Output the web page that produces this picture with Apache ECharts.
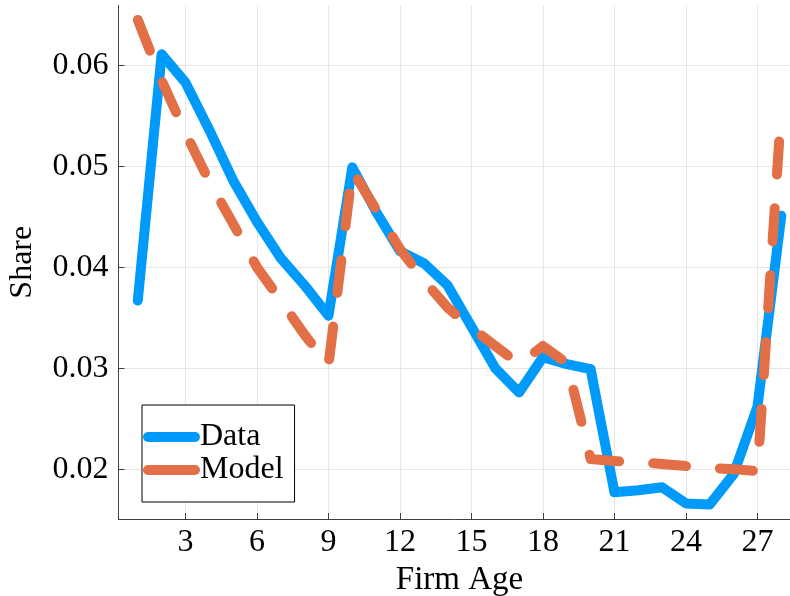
<!DOCTYPE html>
<html>
<head>
<meta charset="utf-8">
<script src="https://cdn.jsdelivr.net/npm/echarts@6/dist/echarts.min.js"></script>
<style>html,body{margin:0;padding:0;background:#fff;}#c{width:790px;height:596px;}</style>
</head>
<body>
<div id="c"></div>
<script>
var ages = [1,2,3,4,5,6,7,8,9,10,11,12,13,14,15,16,17,18,19,20,21,22,23,24,25,26,27,28];
var dataShare = [0.0367,0.0611,0.0583,0.0536,0.0486,0.0445,0.0409,0.0382,0.0352,0.0499,0.0455,0.0416,0.0404,0.0382,0.0341,0.0300,0.0276,0.0311,0.0304,0.0299,0.0177,0.0179,0.0182,0.0166,0.0165,0.0195,0.0262,0.0451];
var modelShare = [0.0645,0.0585,0.0533,0.0485,0.0443,0.0400,0.0367,0.0333,0.0303,0.0496,0.0457,0.0418,0.0387,0.0360,0.0340,0.0322,0.0304,0.0322,0.0305,0.0210,0.0208,0.0207,0.0205,0.0203,0.0201,0.0200,0.0198,0.0557];
var xTicks = [3,6,9,12,15,18,21,24,27];
var yTicks = [0.02,0.03,0.04,0.05,0.06];

var FONT = 'Liberation Serif';
var axisColor = '#404040';
var capsule = 'path://M5,0 L52,0 A5,5 0 0 1 52,10 L5,10 A5,5 0 0 1 5,0 Z';
function pairs(vals){ return ages.map(function(a,i){ return [a, vals[i]]; }); }

var chart = echarts.init(document.getElementById('c'), null, {renderer:'canvas'});
chart.setOption({
  animation: false,
  backgroundColor: '#ffffff',
  grid: {left: 118.5, right: -10.6, top: 5.4, bottom: 77, containLabel: false, outerBoundsMode: 'none'},
  xAxis: {
    type: 'value', min: 0.19, max: 28.81,
    name: 'Firm Age', nameLocation: 'middle', nameGap: 41,
    nameTextStyle: {fontFamily: FONT, fontSize: 33, color: '#000'},
    axisLine: {show: true, onZero: false, lineStyle: {color: axisColor, width: 1}},
    axisTick: {show: true, inside: true, length: 6, customValues: xTicks, lineStyle: {color: axisColor}},
    axisLabel: {customValues: xTicks, fontFamily: FONT, fontSize: 32, color: '#000', margin: 8},
    splitLine: {show: true, lineStyle: {color: '#e6e6e6', width: 1}}
  },
  yAxis: {
    type: 'value', min: 0.01506, max: 0.06594,
    name: 'Share', nameLocation: 'middle', nameGap: 80, nameRotate: 90,
    nameTextStyle: {fontFamily: FONT, fontSize: 32, color: '#000'},
    axisLine: {show: true, onZero: false, lineStyle: {color: axisColor, width: 1}},
    axisTick: {show: true, inside: true, length: 6, customValues: yTicks, lineStyle: {color: axisColor}},
    axisLabel: {customValues: yTicks, fontFamily: FONT, fontSize: 32, color: '#000', margin: 10,
      formatter: function(v){ return v.toFixed(2); }},
    splitLine: {show: true, lineStyle: {color: '#e6e6e6', width: 1}}
  },
  legend: {
    show: true, orient: 'vertical', left: 142, top: 405,
    padding: [16, 11, 16, 1], itemGap: 1, itemWidth: 57, itemHeight: 10,
    backgroundColor: '#fff', borderColor: '#000', borderWidth: 1, borderRadius: 0,
    textStyle: {fontFamily: FONT, fontSize: 32, color: '#000', padding: [0, 0, 0, -5]},
    icon: capsule,
    data: ['Data', 'Model']
  },
  series: [
    {
      name: 'Data', type: 'line', data: pairs(dataShare), showSymbol: false, symbol: 'none',
      color: '#009AFA',
      lineStyle: {color: '#009AFA', width: 10, cap: 'round', join: 'round'},
      z: 2
    },
    {
      name: 'Model', type: 'line', data: pairs(modelShare), showSymbol: false, symbol: 'none',
      color: '#E36F47',
      lineStyle: {color: '#E36F47', width: 10, type: [33, 34], cap: 'round', join: 'round'},
      z: 3
    }
  ]
});
</script>
</body>
</html>
